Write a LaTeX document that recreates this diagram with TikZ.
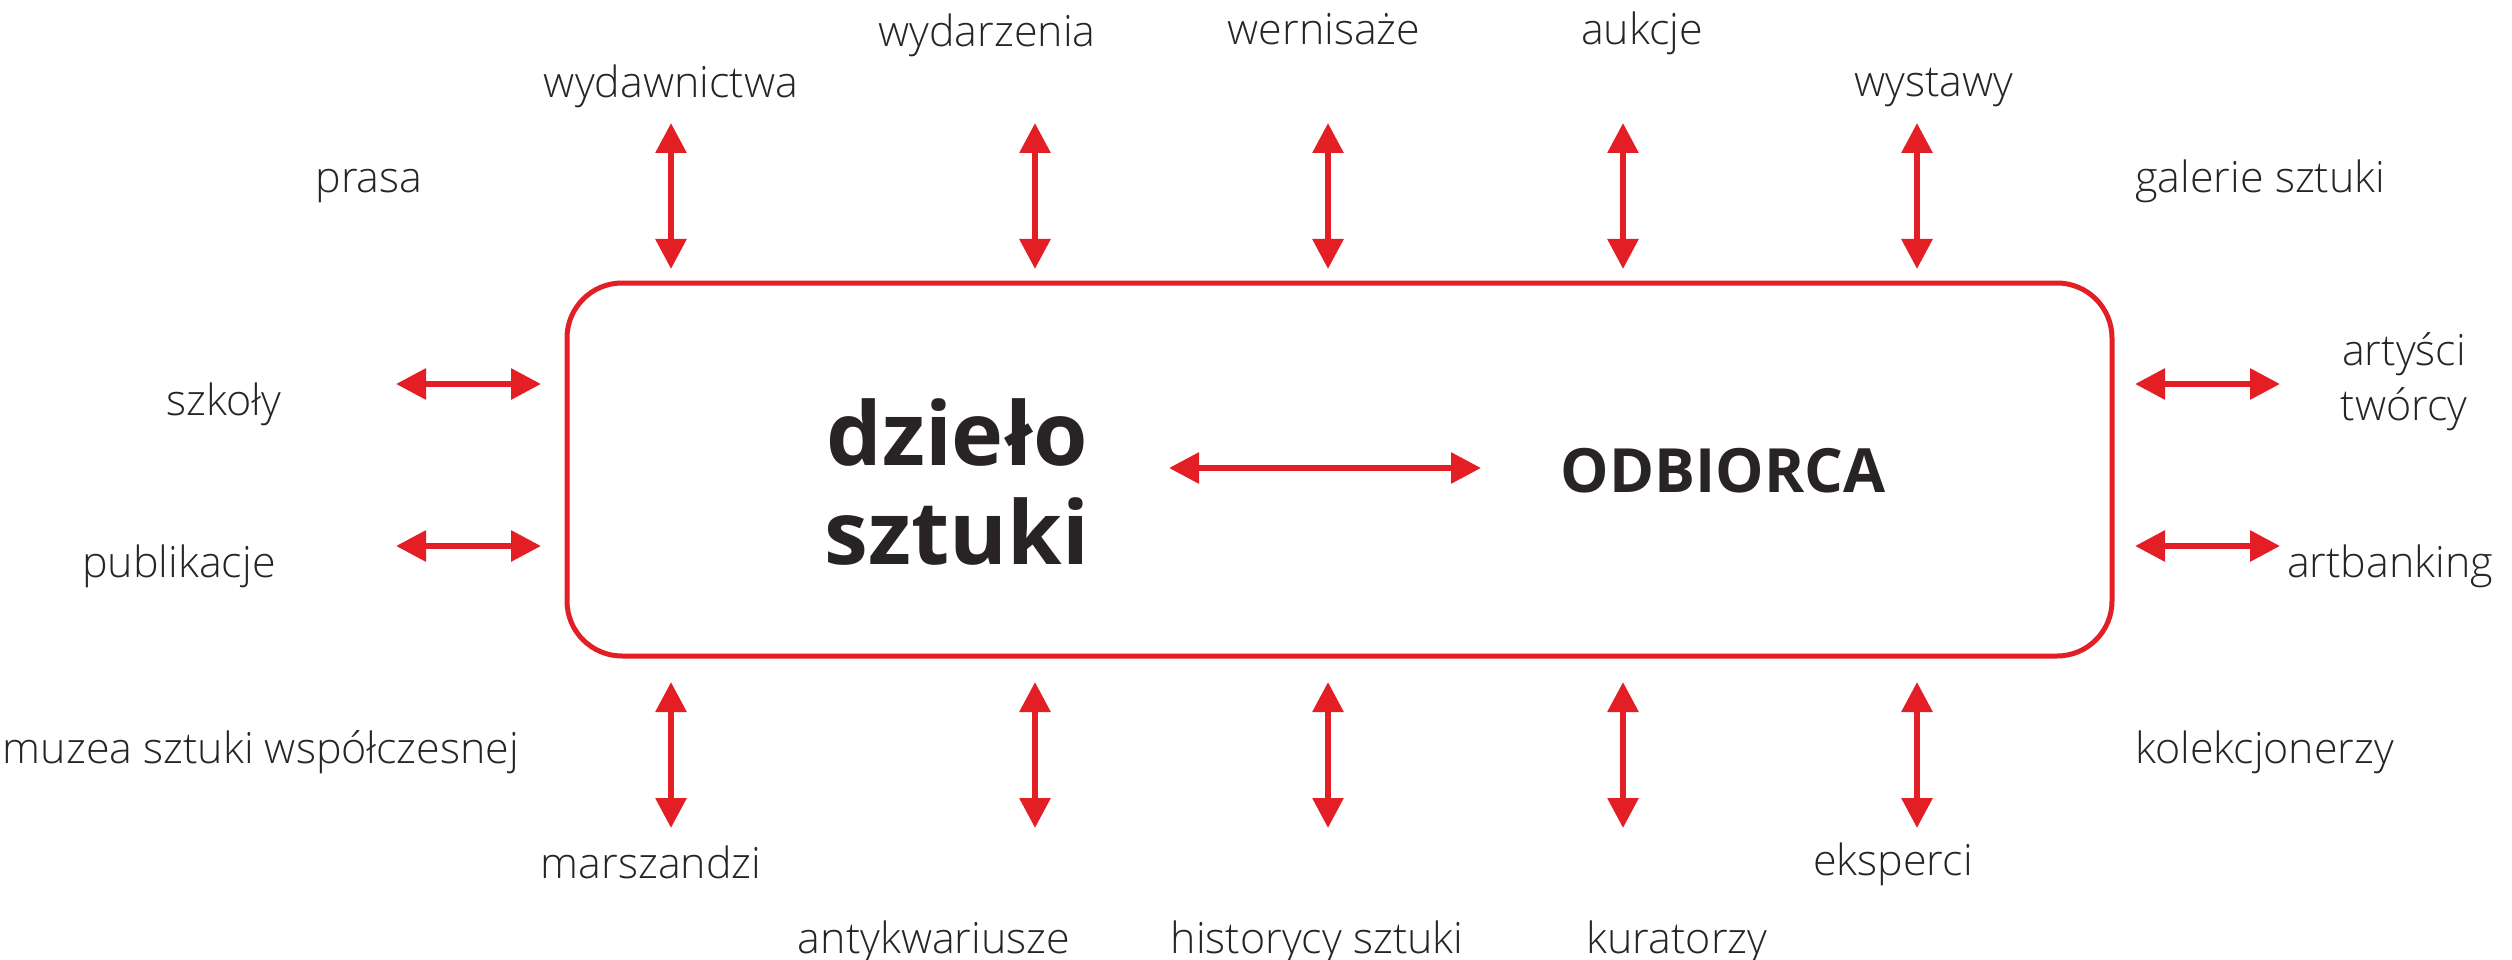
\documentclass[tikz,border=0pt]{standalone}
\usepackage{fontspec}
\setmainfont{Open Sans}[UprightFont={* Light}, BoldFont={Open Sans Bold}]
\usetikzlibrary{arrows.meta}
\definecolor{myred}{RGB}{227,30,36}
\definecolor{txt}{RGB}{40,36,37}
\begin{document}
\begin{tikzpicture}[x=1pt,y=-1pt,
  lbl/.style={inner sep=0pt, anchor=base, text=txt, font=\fontsize{43}{55}\selectfont},
  dbl/.style={draw=myred, line width=6pt, {Triangle[width=30pt,length=30pt]}-{Triangle[width=30pt,length=30pt]}},
  frame/.style={draw=myred, line width=5pt, rounded corners=55pt, inner sep=0pt, minimum width=1545pt, minimum height=373pt}]
\useasboundingbox (0,0) rectangle (2512,960);
\fill[white] (0,0) rectangle (2512,960);
% main frame
\node[frame] (box) at (1339.5,469.5) {};
% centre texts
\node[inner sep=0pt, anchor=base, align=center, text=txt, font=\bfseries\fontsize{88}{99}\selectfont] (dzielo) at (957,564) {dzieło\\sztuki};
\node[inner sep=0pt, anchor=base, text=txt, font=\bfseries\fontsize{61}{63}\selectfont] (odbiorca) at (1723,492) {ODBIORCA};
% labels
\node[lbl] (prasa) at (369,193) {prasa};
\node[lbl] (wydawnictwa) at (671,98) {wydawnictwa};
\node[lbl] (wydarzenia) at (987,47) {wydarzenia};
\node[lbl] (wernisaze) at (1324,45) {wernisaże};
\node[lbl] (aukcje) at (1642,45) {aukcje};
\node[lbl] (wystawy) at (1934,97) {wystawy};
\node[lbl, anchor=base west] (galerie) at (2135,193) {galerie sztuki};
\node[lbl] (szkoly) at (224,415) {szkoły};
\node[lbl] (publikacje) at (179,577) {publikacje};
\node[lbl, align=center] (artysci) at (2404,420) {artyści\\twórcy};
\node[lbl] (artbanking) at (2390,577) {artbanking};
\node[lbl] (muzea) at (261,763) {muzea sztuki współczesnej};
\node[lbl, anchor=base west] (kolekcjonerzy) at (2135,763) {kolekcjonerzy};
\node[lbl] (marszandzi) at (651,878) {marszandzi};
\node[lbl] (eksperci) at (1893,875) {eksperci};
\node[lbl] (antykwariusze) at (934,953) {antykwariusze};
\node[lbl] (historycy) at (1317,953) {historycy sztuki};
\node[lbl] (kuratorzy) at (1677,953) {kuratorzy};
% arrow end points
\foreach \n/\x in {1/671,2/1035,3/1328,4/1623,5/1917}{
  \coordinate (ta\n) at (\x,123);
  \coordinate (tb\n) at (\x,269);
  \coordinate (ba\n) at (\x,682);
  \coordinate (bb\n) at (\x,828);
}
\coordinate (la1) at (396,384); \coordinate (lb1) at (541,384);
\coordinate (la2) at (396,546); \coordinate (lb2) at (541,546);
\coordinate (ra1) at (2135,384); \coordinate (rb1) at (2280,384);
\coordinate (ra2) at (2135,546); \coordinate (rb2) at (2280,546);
\coordinate (ca) at (1169,468); \coordinate (cb) at (1481,468);
% arrows
\foreach \n in {1,...,5}{
  \draw[dbl] (ta\n) -- (tb\n);
  \draw[dbl] (ba\n) -- (bb\n);
}
\draw[dbl] (la1) -- (lb1);
\draw[dbl] (la2) -- (lb2);
\draw[dbl] (ra1) -- (rb1);
\draw[dbl] (ra2) -- (rb2);
\draw[dbl] (ca) -- (cb);
\end{tikzpicture}
\end{document}
